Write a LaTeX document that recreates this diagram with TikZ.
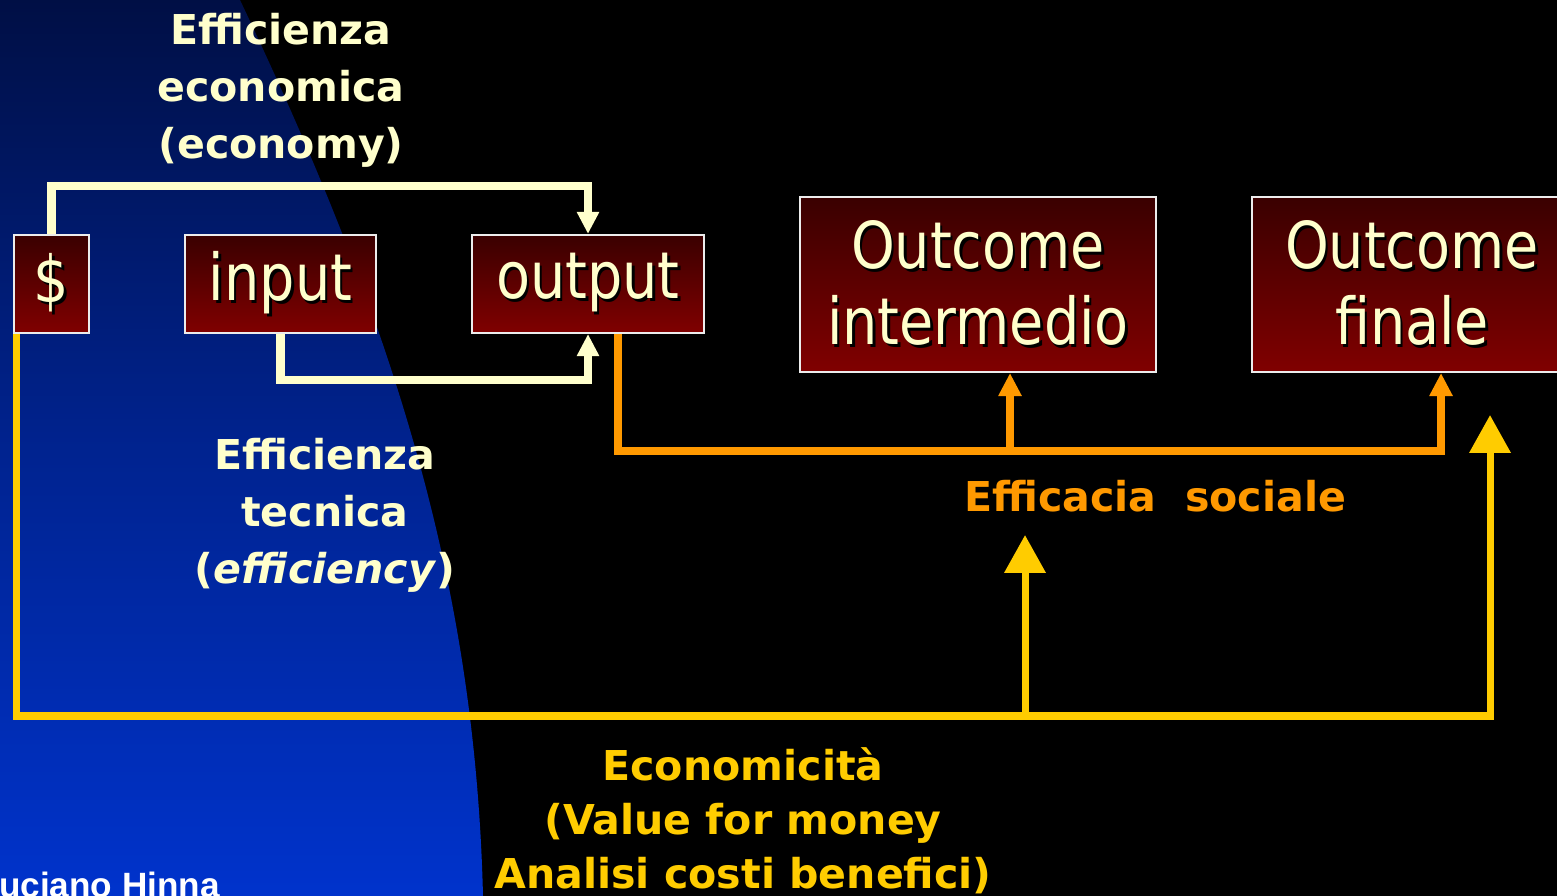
\documentclass[tikz,border=0pt]{standalone}
\usepackage{fontspec}
\setmainfont{DejaVu Sans}
\newfontfamily\boxfont[FakeStretch=0.86]{DejaVu Sans}
\newfontfamily\signfont{Liberation Sans}
\usetikzlibrary{arrows.meta}

\definecolor{cream}{HTML}{FFFFCC}
\definecolor{orangeline}{HTML}{FF9900}
\definecolor{goldline}{HTML}{FFCC00}
\definecolor{boxtop}{HTML}{3A0000}
\definecolor{boxbot}{HTML}{800000}
\definecolor{navytop}{HTML}{000F45}
\definecolor{navybot}{HTML}{0033CC}

\newcommand\shtext[1]{\leavevmode\rlap{\kern0.7pt\raisebox{-0.7pt}{\color{black}#1}}#1}

\tikzset{
  box/.style={draw=white!85!gray, line width=0.6pt, top color=boxtop, bottom color=boxbot,
    inner sep=0pt, text=cream, align=center, font=\boxfont\fontsize{18.4}{21.6}\selectfont},
  lbl/.style={align=center, font=\bfseries\fontsize{11.7}{16.2}\selectfont},
  creamarrow/.style={draw=cream, line width=2.3pt, -{Triangle[width=2.1mm,length=2.2mm]}},
  orangearrow/.style={draw=orangeline, line width=2.3pt, -{Triangle[width=2.2mm,length=2.3mm]}},
  goldarrow/.style={draw=goldline, line width=2pt, -{Triangle[width=4mm,length=3.8mm]}}
}

\begin{document}
\begin{tikzpicture}
%\draw [help lines] (0,0) grid (16,9);
\useasboundingbox (0,0) rectangle (15.57,8.96);
\clip (0,0) rectangle (15.57,8.96);

 \fill [black] (0,0) rectangle (15.57,8.96);
 \shade [top color=navytop, bottom color=navybot, middle color=navytop!45!navybot]
   (0,0) -- (0,8.96) -- (2.40,8.96) .. controls (3.9,5.8) and (4.75,3.2) .. (4.83,0) -- cycle;

 \node [box, minimum width=0.75cm, minimum height=0.98cm] (dollar) at (0.515,6.12) {\shtext{\$}};
 \node [box, minimum width=1.91cm, minimum height=0.98cm] (input) at (2.805,6.12) {\shtext{input}};
 \node [box, minimum width=2.32cm, minimum height=0.98cm] (output) at (5.88,6.12) {\shtext{output}};
 \node [box, minimum width=3.56cm, minimum height=1.75cm] (intermedio) at (9.78,6.115) {\shtext{Outcome}\\\shtext{intermedio}};
 \node [box, minimum width=3.20cm, minimum height=1.75cm] (finale) at (14.12,6.115) {\shtext{Outcome}\\\shtext{finale}};

 \draw [creamarrow] (dollar.north) -- ++(0,0.48) -| (output.north);
 \draw [creamarrow] (input.south) -- ++(0,-0.46) -| (output.south);

 \draw [orangearrow] ([xshift=3mm]output.south) -- ++(0,-1.17) -| ([xshift=3.2mm]intermedio.south);
 \draw [orangearrow] ([xshift=3.2mm,yshift=-7.8mm]intermedio.south) -| ([xshift=2.9mm]finale.south);

 \coordinate (goldbase) at (14.90,1.80);
 \coordinate (goldtip) at (14.90,4.81);
 \coordinate (socialbase) at (10.25,1.80);
 \coordinate (socialtip) at (10.25,3.61);
 \draw [goldarrow] ([xshift=0.4mm]dollar.south west) |- (goldbase) -- (goldtip);
 \draw [goldarrow] (socialbase) -- (socialtip);

 \node [lbl, text=cream] (economy) at (2.81,8.06) {Efficienza\\economica\\(economy)};
 \node [lbl, text=cream] (efficiency) at (3.25,3.81) {Efficienza\\tecnica\\(\textit{efficiency})};
 \node [lbl, text=orangeline] (efficacia) at (11.55,4.00) {Efficacia~~sociale};
 \node [lbl, text=goldline, font=\bfseries\fontsize{11.7}{15.4}\selectfont] (economicita) at (7.43,0.75)
   {Economicità\\(Value for money\\Analisi costi benefici)};

 \node [anchor=base west, inner sep=0pt, text=white, font=\signfont\bfseries\fontsize{10}{12}\selectfont] (author) at (-0.23,-0.02) {Luciano Hinna};
\end{tikzpicture}
\end{document}
